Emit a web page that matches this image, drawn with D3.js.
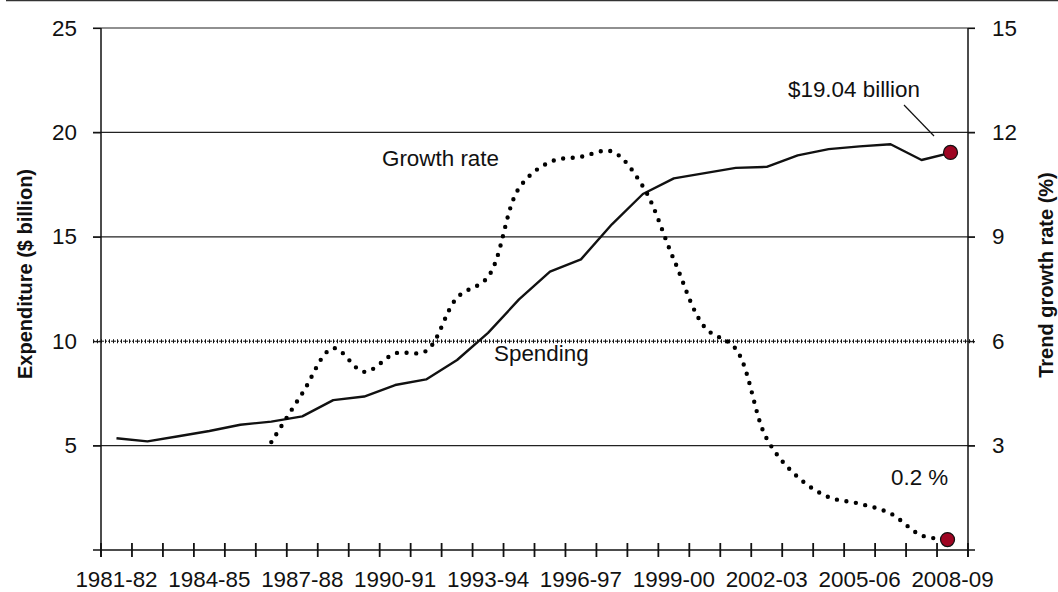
<!DOCTYPE html>
<html>
<head>
<meta charset="utf-8">
<script src="https://cdn.jsdelivr.net/npm/d3@7"></script>
<style>
    body { margin: 0; background: #fff; }
    svg text { font-family: "Liberation Sans", Arial, sans-serif; fill: #111; }
</style>
</head>
<body>
<svg id="chart"></svg>
<script>
// financial years (categories)
const years = ['1981-82', '1982-83', '1983-84', '1984-85', '1985-86', '1986-87', '1987-88',
    '1988-89', '1989-90', '1990-91', '1991-92', '1992-93', '1993-94', '1994-95', '1995-96',
    '1996-97', '1997-98', '1998-99', '1999-00', '2000-01', '2001-02', '2002-03', '2003-04',
    '2004-05', '2005-06', '2006-07', '2007-08', '2008-09'];

// spending, $ billion (left axis)
const spending = [5.35, 5.2, 5.45, 5.7, 6.0, 6.15, 6.4, 7.18, 7.35, 7.9, 8.17, 9.1, 10.4, 12.0,
    13.33, 13.92, 15.6, 17.05, 17.8, 18.05, 18.3, 18.35, 18.9, 19.2, 19.33, 19.43, 18.68, 19.04];

// trend growth rate, % (right axis) - no value before 1986-87
const growth = [null, null, null, null, null, 3.1, 4.5, 5.8, 5.12, 5.65, 5.72, 7.25, 7.85, 10.4,
    11.15, 11.3, 11.45, 10.45, 8.35, 6.4, 5.78, 3.2, 2.1, 1.52, 1.33, 1.05, 0.42, 0.3];

const xLabels = ['1981-82', '1984-85', '1987-88', '1990-91', '1993-94', '1996-97', '1999-00', '2002-03', '2005-06', '2008-09'];
const leftTicks = [5, 10, 15, 20, 25];
const rightTicks = [3, 6, 9, 12, 15];

const width = 1058, height = 592;
const fs = 22.4;
const svg = d3.select('#chart').attr('width', width).attr('height', height);

const x = d3.scaleBand().domain(years).range([101, 968]);
const yL = d3.scaleLinear().domain([0, 25]).range([550, 28]);
const yR = d3.scaleLinear().domain([0, 15]).range([550, 28]);
const cx = d => x(d) + x.bandwidth() / 2;

// top rule
svg.append('line')
    .attr('x1', 6).attr('x2', width).attr('y1', 0.5).attr('y2', 0.5)
    .attr('stroke', '#333').attr('stroke-width', 1.5);

// gridlines
leftTicks.filter(d => d !== 10).forEach(d => {
    svg.append('line')
        .attr('x1', 93).attr('x2', 975)
        .attr('y1', yL(d)).attr('y2', yL(d))
        .attr('stroke', '#222').attr('stroke-width', 1.2);
});
// the 10 line is dotted
svg.append('line')
    .attr('x1', 93).attr('x2', 975).attr('y1', yL(10)).attr('y2', yL(10))
    .attr('stroke', '#111').attr('stroke-width', 1).attr('stroke-dasharray', '2,1');
svg.append('line')
    .attr('x1', 93).attr('x2', 975).attr('y1', yL(10)).attr('y2', yL(10))
    .attr('stroke', '#111').attr('stroke-width', 4).attr('stroke-dasharray', '1,3');

// left axis
const leftAxis = svg.append('g')
    .attr('transform', 'translate(101,0)')
    .call(d3.axisLeft(yL).tickValues(leftTicks).tickSize(8).tickPadding(16).tickSizeOuter(0));
// right axis
const rightAxis = svg.append('g')
    .attr('transform', 'translate(968,0)')
    .call(d3.axisRight(yR).tickValues(rightTicks).tickSize(7).tickPadding(17).tickSizeOuter(0));

[leftAxis, rightAxis].forEach(a => {
    a.select('.domain').attr('stroke', '#111').attr('stroke-width', 1.5)
        .attr('d', 'M0,28V557');
    a.selectAll('.tick line').attr('stroke', '#111').attr('stroke-width', 1.2);
    a.selectAll('.tick text').attr('font-size', fs).style('font-family', '"Liberation Sans", Arial, sans-serif').attr('fill', '#111');
});

// bottom axis line + ticks at band boundaries
svg.append('line')
    .attr('x1', 93).attr('x2', 975).attr('y1', 550).attr('y2', 550)
    .attr('stroke', '#111').attr('stroke-width', 1.5);
const bounds = years.map(d => x(d)).concat([x.range()[1]]);
svg.append('g').selectAll('line')
    .data(bounds)
    .join('line')
    .attr('x1', d => d).attr('x2', d => d)
    .attr('y1', 543).attr('y2', 557)
    .attr('stroke', '#111').attr('stroke-width', 1.8);

svg.append('g').selectAll('text')
    .data(xLabels)
    .join('text')
    .attr('x', d => cx(d))
    .attr('y', 587)
    .attr('text-anchor', 'middle')
    .attr('font-size', fs)
    .text(d => d);

// axis titles
svg.append('text')
    .attr('transform', 'translate(32,274) rotate(-90)')
    .attr('text-anchor', 'middle')
    .attr('font-size', 20).attr('font-weight', 'bold')
    .text('Expenditure ($ billion)');
svg.append('text')
    .attr('transform', 'translate(1053,275) rotate(-90)')
    .attr('text-anchor', 'middle')
    .attr('font-size', 20).attr('font-weight', 'bold')
    .text('Trend growth rate (%)');

// spending line
const spendLine = d3.line()
    .x((d, i) => cx(years[i]))
    .y(d => yL(d));
svg.append('path')
    .datum(spending)
    .attr('d', spendLine)
    .attr('fill', 'none')
    .attr('stroke', '#111')
    .attr('stroke-width', 2.4)
    .attr('stroke-linejoin', 'round');

// growth rate (dotted, smoothed)
const growthLine = d3.line()
    .defined(d => d !== null)
    .curve(d3.curveCatmullRom.alpha(0.5))
    .x((d, i) => cx(years[i]))
    .y(d => yR(d));
svg.append('path')
    .datum(growth)
    .attr('d', growthLine)
    .attr('fill', 'none')
    .attr('stroke', '#000')
    .attr('stroke-width', 4.4)
    .attr('stroke-linecap', 'round')
    .attr('stroke-dasharray', '0,9.6');

// end markers
const last = years.length - 1;
svg.append('circle')
    .attr('cx', cx(years[last]) - 2).attr('cy', yL(spending[last])).attr('r', 7)
    .attr('fill', '#9e0522').attr('stroke', '#111').attr('stroke-width', 1.2);
svg.append('circle')
    .attr('cx', cx(years[last]) - 5).attr('cy', yR(growth[last])).attr('r', 7)
    .attr('fill', '#9e0522').attr('stroke', '#111').attr('stroke-width', 1.2);

// annotations
svg.append('text').attr('x', 382).attr('y', 166).attr('font-size', fs).text('Growth rate');
svg.append('text').attr('x', 494).attr('y', 361).attr('font-size', fs).text('Spending');
svg.append('text').attr('x', 788).attr('y', 97).attr('font-size', fs).text('$19.04 billion');
svg.append('text').attr('x', 891).attr('y', 485).attr('font-size', fs).text('0.2 %');
svg.append('line')
    .attr('x1', 904).attr('y1', 105).attr('x2', 934).attr('y2', 136)
    .attr('stroke', '#111').attr('stroke-width', 1.2);
</script>
</body>
</html>
